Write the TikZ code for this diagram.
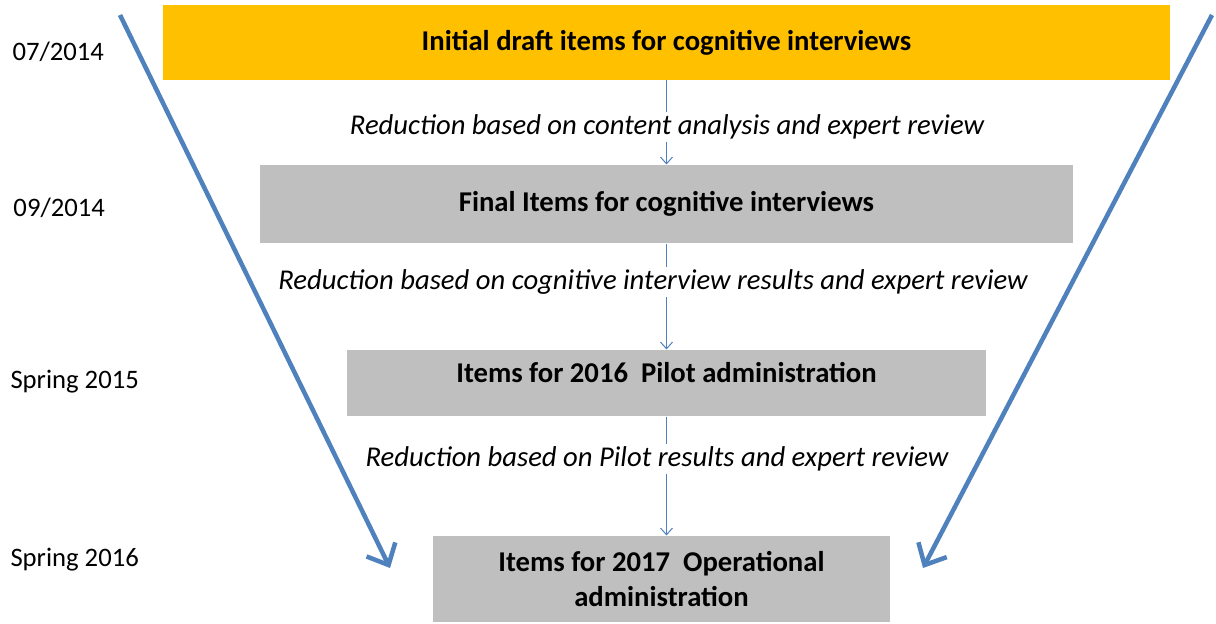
\documentclass[tikz,border=0pt]{standalone}
\usepackage{fontspec}
\setmainfont{Carlito}
\usetikzlibrary{arrows.meta}
\tikzset{every picture/.style={line width=0.75pt}}
\definecolor{stagegold}{RGB}{255,192,0}
\definecolor{stagegray}{RGB}{191,191,191}
\definecolor{flowblue}{RGB}{79,129,189}

\begin{document}
\begin{tikzpicture}[x=0.75pt,y=0.75pt,yscale=-1,xscale=1,
	stage/.style={fill=stagegray, inner sep=0pt, align=center, font=\fontsize{21.5}{26}\selectfont\bfseries},
	reduction/.style={fill=white, inner sep=2pt, font=\fontsize{21.5}{26}\selectfont\itshape},
	date/.style={anchor=west, inner sep=0pt, font=\fontsize{20}{24}\selectfont},
	flow/.style={draw=flowblue, line width=0.75pt, -{Straight Barb[length=5pt,width=9pt]}},
	funnel/.style={draw=flowblue, line width=3.4pt, -{Straight Barb[length=13pt,width=24pt]}}]
		\useasboundingbox (0,0) rectangle (1216,624);

		%Shape: Rectangle [id:init]
		\node [stage, fill=stagegold, minimum width=1007*0.75pt, minimum height=75*0.75pt] (init) at (666.5,42.5) {Initial draft items for cognitive interviews};
		%Shape: Rectangle [id:final]
		\node [stage, minimum width=813*0.75pt, minimum height=78*0.75pt] (final) at (666.5,204) {Final Items for cognitive interviews};
		%Shape: Rectangle [id:pilot]
		\node [stage, text depth=16pt, minimum width=639*0.75pt, minimum height=66*0.75pt] (pilot) at (666.5,383) {Items for 2016~ Pilot administration};
		%Shape: Rectangle [id:oper]
		\node [stage, minimum width=457*0.75pt, minimum height=86*0.75pt] (oper) at (661.5,579) {Items for 2017~ Operational\\administration};

		%Straight Lines [id:flow1]
		\draw [flow] (init.south) -- (final.north);
		%Straight Lines [id:flow2]
		\draw [flow] (final.south) -- (pilot.north);
		%Straight Lines [id:flow3]
		\draw [flow] (pilot.south) -- (pilot.south |- oper.north);

		% Text Node
		\node [reduction] (red1) at (667,127) {Reduction based on content analysis and expert review};
		% Text Node
		\node [reduction] (red2) at (653,282) {Reduction based on cognitive interview results and expert review};
		% Text Node
		\node [reduction] (red3) at (657,459) {Reduction based on Pilot results and expert review};

		% Text Node
		\node [date] (d1) at (12,52) {07/2014};
		% Text Node
		\node [date] (d2) at (13,208) {09/2014};
		% Text Node
		\node [date] (d3) at (10,382) {Spring 2015};
		% Text Node
		\node [date] (d4) at (10,560) {Spring 2016};

		%Straight Lines [id:funnelL]
		\coordinate (ltop) at (120,15);
		\coordinate (lend) at (390,568);
		\draw [funnel] (ltop) -- (lend);
		%Straight Lines [id:funnelR]
		\coordinate (rtop) at (1212,15);
		\coordinate (rend) at (923,568);
		\draw [funnel] (rtop) -- (rend);

\end{tikzpicture}
\end{document}
